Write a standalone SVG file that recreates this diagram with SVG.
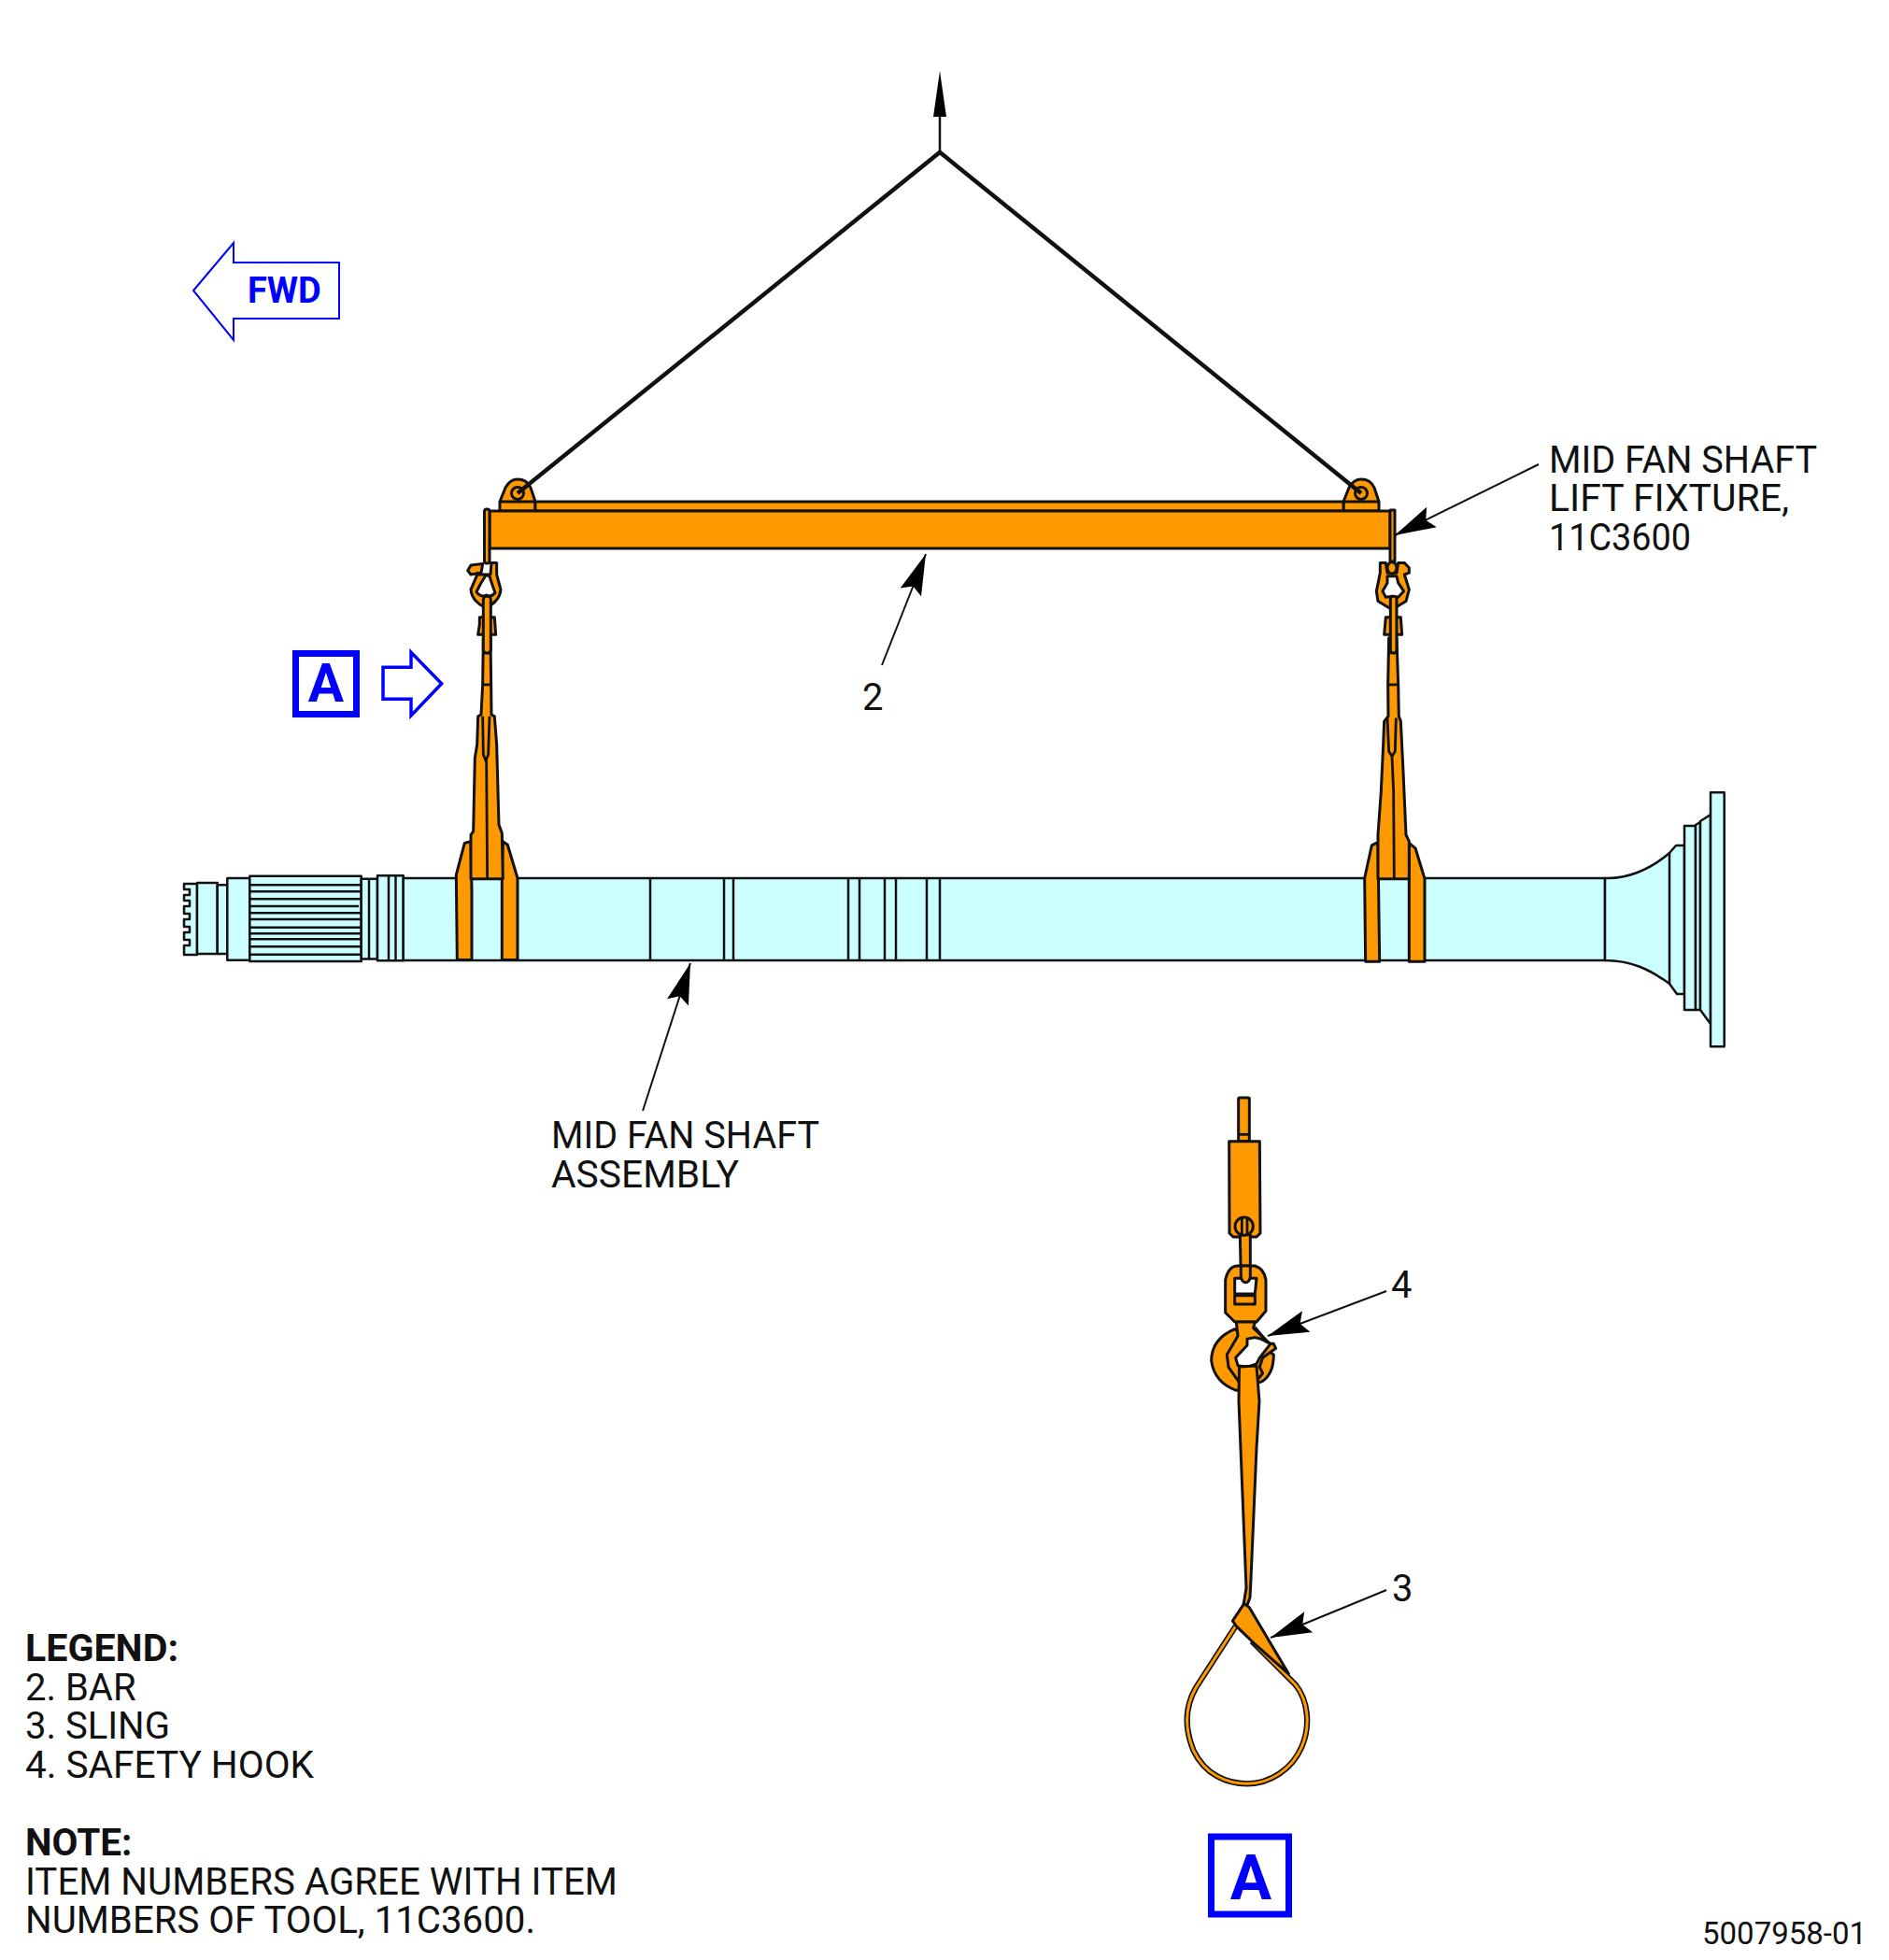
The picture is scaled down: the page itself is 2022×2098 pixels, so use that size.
<svg xmlns="http://www.w3.org/2000/svg" width="2022" height="2098" viewBox="0 0 2022 2098">
<style>
text{font-family:Roboto,"Liberation Sans",sans-serif;font-size:40px;fill:#111}
.b{font-weight:700;font-size:40.500px}
.blue{fill:#0000ff;font-weight:700}
.o{fill:#ff9900;stroke:#111;stroke-width:3;stroke-linejoin:round;vector-effect:non-scaling-stroke}
.w{fill:#fff;stroke:#111;stroke-width:3;stroke-linejoin:round;vector-effect:non-scaling-stroke}
.l{fill:none;stroke:#111;stroke-width:2.800;vector-effect:non-scaling-stroke}
.s{fill:#ccffff;stroke:#111;stroke-width:2.500;stroke-linejoin:round}
.sl{fill:none;stroke:#111;stroke-width:2.500}
.lead{fill:none;stroke:#111;stroke-width:2;marker-end:url(#ah)}
.bn{fill:none;stroke:#0000ff}
</style>
<defs>
<marker id="ah" markerUnits="userSpaceOnUse" markerWidth="48" markerHeight="30" viewBox="-44 -15 46 30" refX="0" refY="0" orient="auto">
<path d="M0 0L-44 -12L-37 0L-44 12Z" fill="#000"/>
</marker>
</defs>

<g id="fwd-arrow">
<path class="bn" stroke-width="2" d="M207 311L250 260V281H363V341H250V364Z"/>
<text class="blue" x="265" y="324" style="font-size:38px">FWD</text>
</g>

<g id="view-a-callout">
<rect class="bn" stroke-width="7" x="316.500" y="699.500" width="65" height="65"/>
<text class="blue" x="349" y="751" text-anchor="middle" style="font-size:57px">A</text>
<path class="bn" stroke-width="3.500" d="M410 714.300H440V698.300L472.700 731.700L440 766V748.300H410Z"/>
</g>

<g id="shaft">
<path class="s" d="M197 946H211V1022H197V1012H203V1006H197V998H203V992H197V984H203V978H197V970H203V964H197V958H203V952H197Z"/>
<rect class="s" x="211" y="945" width="21.700" height="76"/>
<rect class="s" x="232.700" y="947.300" width="10.600" height="73.700"/>
<rect class="s" x="243.300" y="940" width="24" height="87.700"/>
<rect class="s" x="267.300" y="937.700" width="119.400" height="91.300"/>
<path class="sl" d="M267 947.300H387M267 954.300H387M267 962.300H387M267 970H384M267 977.300H387M267 984H387M267 992.700H387M267 999.300H387M267 1005.300H387M267 1013.300H387M267 1021.700H387"/>
<rect class="s" x="386.700" y="940.700" width="17.300" height="85.700"/>
<path class="sl" d="M395 940.700V1026.400"/>
<rect class="s" x="404" y="937.300" width="27.700" height="91"/>
<path class="sl" d="M416 937.300V1028.300M423.500 937.300V1028.300"/>
<rect class="s" x="431.700" y="940" width="1286.300" height="88"/>
<path class="sl" d="M696 940V1028M775 940V1028M785 940V1028M908 940V1028M920 940V1028M947 940V1028M959 940V1028M992 940V1028M1006 940V1028"/>
<path class="s" d="M1718 940C1740 941 1765 932 1787 913L1794 905H1803V1064H1795L1787 1053C1765 1037 1745 1028 1718 1028Z"/>
<path class="sl" d="M1787 913V1053"/>
<path class="s" d="M1803 884H1815V1081H1803Z"/>
<path class="s" d="M1815 883L1820 880V1081H1815Z"/>
<path class="s" d="M1820 879L1831 872V1096L1820 1081Z"/>
<rect class="s" x="1831" y="848.300" width="14.700" height="272"/>
</g>

<g id="lift-fixture">
<g id="lug-left"><path class="o" d="M535 537L541 522Q546 513 554 513Q564 513 568 522L573 537V547H535Z"/><path class="l" d="M535 537H573"/><circle class="o" cx="554" cy="528" r="6.500"/></g>
<g id="lug-right"><path class="o" d="M1438 537L1444 522Q1449 513 1457 513Q1467 513 1471 522L1476 537V547H1438Z"/><path class="l" d="M1438 537H1476"/><circle class="o" cx="1457" cy="528" r="6.500"/></g>
<rect class="o" x="573" y="537" width="865" height="10"/>
<rect class="o" x="524" y="547" width="964" height="40"/>
<rect class="o" x="518.500" y="545" width="5.500" height="58" rx="2.500"/>
<rect class="o" x="1488" y="546" width="5" height="55"/>
</g>

<g id="sling-left" transform="translate(480 490) scale(.3333 .3571)">
<path class="o" d="M52 1155L72 1150L75 1300L75 1505H28L25 1250Z"/>
<path class="o" d="M175 1150L190 1160L222 1260V1505H172V1260Z"/>
<path class="o" d="M112 540L110 680L105 770L95 775L92 860L85 900L80 1120L72 1130V1262H175L172 1125L162 1100L155 860L148 775L138 770L137 680L135 540Z"/>
<path class="l" d="M110 775L112 890L120 908L128 890L132 775M110 680H140M112 585H135M122 908L125 1265"/>
<path class="o" d="M100 478H148L152 530H95L100 500Z"/>
<path class="o" d="M110 318L72 322L62 338L72 350L105 345Z"/>
<path class="o" d="M95 345L72 395Q75 430 120 450Q165 430 168 395L155 350V315H138L135 350H95Z"/>
<path class="w" d="M120 352Q135 352 135 365L150 405Q135 420 122 412Q105 420 90 402L105 375Z"/>
<rect class="o" x="112" y="415" width="24" height="170" rx="10"/>
</g>

<g id="sling-right" transform="translate(1440 490) scale(.3333 .3571)">
<path class="o" d="M100 1155L85 1162L62 1260L65 1510H110L105 1155Z"/>
<path class="o" d="M205 1155L225 1170L255 1262V1510H205Z"/>
<path class="o" d="M140 540L137 680L138 775L125 790L122 860L115 1000L105 1130V1262H205V1150L195 1130L185 920L178 790L172 775L170 680L165 540Z"/>
<path class="l" d="M135 780L140 880L150 895L160 880L163 780M137 680H170M140 585H165M150 895L155 1000L157 1262"/>
<path class="o" d="M130 478H178L182 530H125Z"/>
<path class="o" d="M112 345L100 400L105 430L150 455L195 430L205 395L190 350L205 345V330L190 315H170L165 345H135L130 315H112Z"/>
<path class="w" d="M135 355H165L170 375L188 400L170 418L150 415L130 418L120 400L135 375Z"/>
<ellipse class="o" cx="150" cy="330" rx="15" ry="17"/>
<rect class="o" x="145" y="415" width="20" height="170" rx="9"/>
</g>

<g id="hook-assembly" transform="translate(1280 1170) scale(.3333)">
<rect class="o" x="137" y="15" width="35" height="140" rx="4"/>
<path class="l" d="M140 133H170"/>
<path class="o" d="M107 155H205L207 450L195 462H120L108 450Z"/>
<path class="o" d="M142 455L145 590Q148 608 160 608Q172 608 175 590V455Z"/>
<circle class="o" cx="155" cy="428" r="29"/>
<path class="l" d="M148 402V456M165 402V456"/>
<path class="o" d="M95 600Q105 555 135 555H190Q220 565 225 600V700L195 735H125L95 705Z"/>
<path class="w" d="M125 595H195L190 645H125Z"/>
<path class="o" d="M125 650H190V678H125Z"/>
<path class="o" d="M145 555L145 590Q148 608 160 608Q172 608 175 590V555Z"/>
<path class="o" d="M125 758Q50 790 50 860Q60 930 130 955L215 925Q250 900 250 840L125 758Z"/>
<path class="o" d="M130 735H190L185 755L238 805L250 805L257 820L215 850L205 880L215 900L190 930H140L105 880L100 840L135 780Z"/>
<path class="w" d="M165 790L190 785L210 790L240 805L205 850L195 870L165 880L135 875L128 850L165 810Z"/>
<path class="l" d="M190 752L232 802"/>
</g>

<g id="sling-item-3">
<path class="o" d="M1326.500 1463L1345 1462L1348 1500L1345 1550L1339 1690L1338 1710L1335 1718L1331 1718L1334 1700L1330 1600L1326 1500Z"/>
<g transform="translate(1260 1500) scale(.3333)">
<path d="M188 722L60 920C20 990 28 1060 52 1120C90 1200 160 1228 225 1228C300 1228 370 1180 400 1110C430 1040 420 960 380 910L240 770" fill="none" stroke="#111" stroke-width="19" stroke-linejoin="round"/>
<path d="M188 722L60 920C20 990 28 1060 52 1120C90 1200 160 1228 225 1228C300 1228 370 1180 400 1110C430 1040 420 960 380 910L240 770" fill="none" stroke="#ff9900" stroke-width="9" stroke-linejoin="round"/>
<path class="o" d="M215 650L178 705L190 722L250 780L358 875L232 662Z"/>
</g>
</g>

<g id="connectors">
<path d="M1006 163V100" fill="none" stroke="#111" stroke-width="2.500"/>
<path d="M1006 76L999 125H1013Z" fill="#000"/>
<path d="M554 528L1006 163L1457 528" fill="none" stroke="#111" stroke-width="4.500"/>
<line class="lead" x1="1647" y1="497" x2="1493" y2="573"/>
<line class="lead" x1="944" y1="712" x2="991" y2="593"/>
<line class="lead" x1="688" y1="1189" x2="739" y2="1031"/>
<line class="lead" x1="1484" y1="1382" x2="1357" y2="1430"/>
<line class="lead" x1="1484" y1="1702" x2="1360" y2="1753"/>
</g>

<g id="labels">
<text x="1658" y="506" textLength="287" lengthAdjust="spacingAndGlyphs">MID FAN SHAFT</text>
<text x="1658" y="547" textLength="257" lengthAdjust="spacingAndGlyphs">LIFT FIXTURE,</text>
<text x="1658" y="588.500" textLength="152" lengthAdjust="spacingAndGlyphs">11C3600</text>
<text x="923" y="760">2</text>
<text x="590" y="1229" textLength="287" lengthAdjust="spacingAndGlyphs">MID FAN SHAFT</text>
<text x="590" y="1270.500" textLength="201" lengthAdjust="spacingAndGlyphs">ASSEMBLY</text>
<text x="1489" y="1389">4</text>
<text x="1490" y="1714">3</text>
<text class="b" x="27" y="1778" textLength="164" lengthAdjust="spacingAndGlyphs">LEGEND:</text>
<text x="27" y="1819.500">2. BAR</text>
<text x="27" y="1861">3. SLING</text>
<text x="27" y="1902.500" textLength="309" lengthAdjust="spacingAndGlyphs">4. SAFETY HOOK</text>
<text class="b" x="27" y="1986">NOTE:</text>
<text x="27" y="2027.500" textLength="634" lengthAdjust="spacingAndGlyphs">ITEM NUMBERS AGREE WITH ITEM</text>
<text x="27" y="2069" textLength="546" lengthAdjust="spacingAndGlyphs">NUMBERS OF TOOL, 11C3600.</text>
<text x="1822" y="2080.500" style="font-size:33px">5007958-01</text>
</g>

<g id="view-a-label">
<rect class="bn" stroke-width="7" x="1296.500" y="1966" width="83" height="83"/>
<text class="blue" x="1339" y="2033" text-anchor="middle" style="font-size:66px">A</text>
</g>
</svg>
